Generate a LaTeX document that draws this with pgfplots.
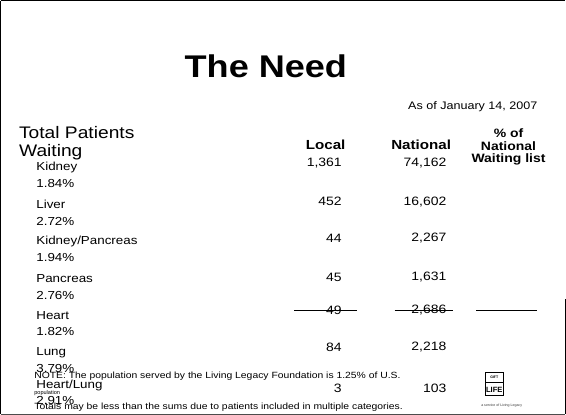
\documentclass[border=0pt]{standalone}
\usepackage{pgfplots}
\pgfplotsset{compat=1.18}
\usepackage{graphicx}
\usepackage{fontspec}
\setmainfont{Liberation Sans}
\newcommand{\W}[1]{\scalebox{1.15}[1]{#1}}
\newcommand{\fs}[1]{\fontsize{#1}{#1}\selectfont}
\begin{document}
\begin{tikzpicture}
\begin{axis}[
  width=566bp, height=421bp, scale only axis,
  xmin=0, xmax=566, ymin=0, ymax=421, y dir=reverse,
  hide axis, clip=false,
]
% frame
\draw[line width=1.2pt] (axis cs:7,6) -- (axis cs:563,6);
\draw[line width=1.2pt] (axis cs:7,6) -- (axis cs:7,413);
\draw[line width=0.8pt, black!70] (axis cs:7,413) -- (axis cs:563,413);
\draw[line width=1pt] (axis cs:563,300) -- (axis cs:563,413);

% title
\node[anchor=west, inner sep=0] at (axis cs:188,71) {\W{\fs{31}\bfseries The Need}};
\node[anchor=west, inner sep=0] at (axis cs:408,110) {\W{\fs{10.8}As of January 14, 2007}};

% column headers
\node[inner sep=0] at (axis cs:327,148) {\W{\fs{13}\bfseries Local}};
\node[inner sep=0] at (axis cs:421,148) {\W{\fs{13}\bfseries National}};
\node[inner sep=0, align=center] at (axis cs:507,150) {\W{\fs{12}\bfseries\shortstack{\% of\\[1pt]National\\[1pt]Waiting list}}};

% left labels
\node[anchor=west, inner sep=0] at (axis cs:25,136) {\W{\fs{16.5}Total Patients}};
\node[anchor=west, inner sep=0] at (axis cs:25,155) {\W{\fs{16.5}Waiting}};

\pgfplotstableread{
x y label
42 170 Kidney
42 186 1.84\%
42 207 Liver
42 223 2.72\%
42 243 Kidney/Pancreas
42 259 1.94\%
42 280 Pancreas
42 296 2.76\%
42 316 Heart
42 332 1.82\%
42 353 Lung
42 368 3.79\%
42 385 Heart/Lung
42 400 2.91\%
}\organs

\pgfplotstableread{
x y label
343 166 1,361
343 204 452
343 240 44
343 278 45
343 311 49
343 347 84
343 388 3
}\localtab

\pgfplotstableread{
x y label
446 166 74,162
446 204 16,602
446 240 2,267
446 278 1,631
446 311 2,686
446 347 2,218
446 388 103
}\nationaltab

\addplot[draw=none, mark=none, point meta=explicit symbolic,
  nodes near coords={\W{\pgfplotspointmeta}},
  every node near coord/.style={anchor=west, inner sep=0, font=\fs{11.5}}]
  table[x=x, y=y, meta=label] {\organs};

\addplot[draw=none, mark=none, point meta=explicit symbolic,
  nodes near coords={\W{\pgfplotspointmeta}},
  every node near coord/.style={anchor=east, inner sep=0, font=\fs{12}}]
  table[x=x, y=y, meta=label] {\localtab};

\addplot[draw=none, mark=none, point meta=explicit symbolic,
  nodes near coords={\W{\pgfplotspointmeta}},
  every node near coord/.style={anchor=east, inner sep=0, font=\fs{12}}]
  table[x=x, y=y, meta=label] {\nationaltab};

% strike-through on Heart row
\draw[line width=0.8pt] (axis cs:296,311) -- (axis cs:358,311);
\draw[line width=0.8pt] (axis cs:395,311) -- (axis cs:452,311);
\draw[line width=0.8pt] (axis cs:475,311) -- (axis cs:535,311);

% notes
\node[anchor=west, inner sep=0] at (axis cs:40,376) {\W{\fs{8.9}NOTE: The population served by the Living Legacy Foundation is 1.25\% of U.S.}};
\node[anchor=west, inner sep=0] at (axis cs:40,392) {\fs{5.5}population};
\node[anchor=west, inner sep=0] at (axis cs:40,406) {\W{\fs{8.9}Totals may be less than the sums due to patients included in multiple categories.}};

% logo
\draw[line width=0.8pt] (axis cs:484,372) rectangle (axis cs:502,395);
\draw[line width=0.5pt] (axis cs:484,382) -- (axis cs:502,382);
\node[inner sep=0] at (axis cs:493,377) {\fs{3.5}\bfseries GIFT};
\node[inner sep=0] at (axis cs:493,389) {\fs{7.5}\bfseries LIFE};
\node[anchor=west, inner sep=0, black!80] at (axis cs:480,405) {\fs{3.5}a service of Living Legacy};
\end{axis}
\end{tikzpicture}
\end{document}
